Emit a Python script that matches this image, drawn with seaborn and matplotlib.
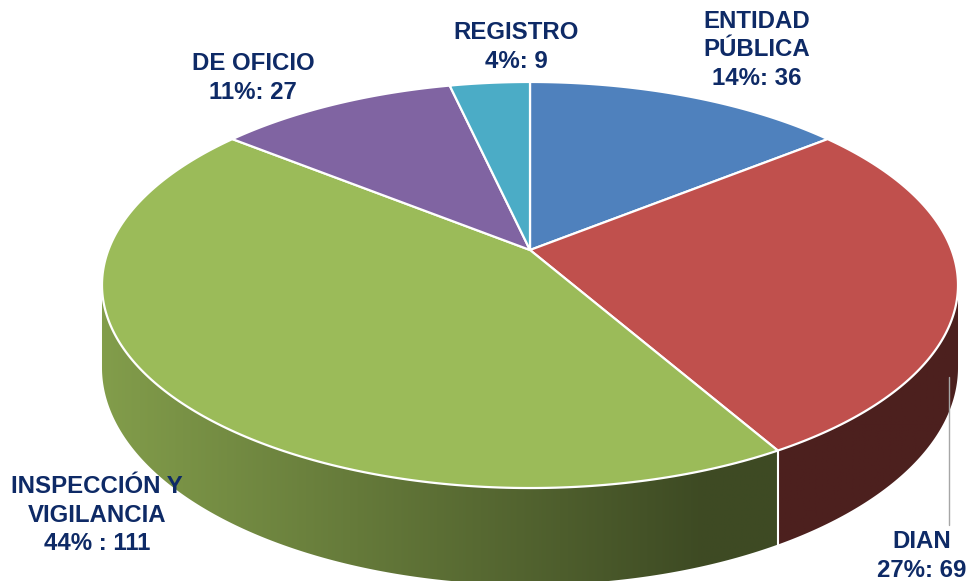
import numpy as np
import matplotlib
matplotlib.use("Agg")
import matplotlib.pyplot as plt
import seaborn as sns
from matplotlib.colors import to_rgb
from matplotlib.patches import Polygon

# data
labels = ["ENTIDAD\nPÚBLICA", "DIAN", "INSPECCIÓN Y\nVIGILANCIA", "DE OFICIO", "REGISTRO"]
values = [36, 69, 111, 27, 9]
separators = [": ", ": ", " : ", ": ", ": "]

sns.set_theme(style="white")
plt.rcParams["font.family"] = ["Liberation Sans", "DejaVu Sans"]
colors = sns.color_palette(["#4F81BD", "#C0504D", "#9BBB59", "#8064A2", "#4BACC6"])

# 3D pie geometry (pixels)
CX, AY = 530, 250        # projected centre of the pie
F, S, K, T = 421.6, 197, 0.1724, 80
VIS0, VIS1 = 99.9, 260.1  # visible part of the side wall (degrees clockwise from top)
label_xy = [(757, 50), (922, 556), (97, 515), (253, 78), (516, 47)]


def proj(phi, z=0.0):
    p = np.radians(phi)
    xw, yw = np.sin(p), np.cos(p)
    d = 1 + K * yw
    return CX + F * xw / d, AY - S * yw / d + T * z / d


def shade(x):
    return np.clip(0.84 - 0.44 * (x - 102) / 598, 0.40, 0.84)


total = sum(values)
bounds = np.concatenate([[0], np.cumsum(values)]) / total * 360

fig = plt.figure(figsize=(9.7, 5.81), dpi=100)
ax = fig.add_axes([0, 0, 1, 1])

# side wall, shaded with a horizontal gradient
for i, (a0, a1) in enumerate(zip(bounds[:-1], bounds[1:])):
    lo, hi = max(a0, VIS0), min(a1, VIS1)
    if lo >= hi:
        continue
    ph = np.linspace(lo, hi, 200)
    xt, yt = proj(ph)
    xb, yb = proj(ph, 1)
    px = np.r_[xt, xb[::-1]]
    py = np.r_[yt, yb[::-1]]
    patch = Polygon(np.c_[px, py], closed=True, fc="none", ec="none")
    ax.add_patch(patch)
    xg = np.linspace(px.min() - 2, px.max() + 2, 400)
    img = np.array(to_rgb(colors[i]))[None, None, :] * shade(xg)[None, :, None]
    im = ax.imshow(img, extent=(xg[0], xg[-1], py.max() + 2, py.min() - 2),
                   aspect="auto", interpolation="bilinear", zorder=0)
    im.set_clip_path(patch)

# white seams on the side where slices meet
for b in bounds[1:-1]:
    if VIS0 < b < VIS1:
        xt, yt = proj(b)
        xb, yb = proj(b, 1)
        ax.plot([xt, xb], [yt, yb], color="white", lw=1.5, zorder=2)

# top faces
for i, (a0, a1) in enumerate(zip(bounds[:-1], bounds[1:])):
    ph = np.linspace(a0, a1, 200)
    xs, ys = proj(ph)
    ax.fill(np.r_[CX, xs], np.r_[AY, ys], fc=colors[i], ec="white", lw=1.6,
            joinstyle="round", zorder=1)

# labels
for lab, v, sep, (lx, ly) in zip(labels, values, separators, label_xy):
    txt = f"{lab}\n{round(100 * v / total)}%{sep}{v}"
    ax.text(lx, ly, txt, ha="center", va="center", multialignment="center",
            fontsize=17.3, fontweight="bold", color="#0E2A66", linespacing=1.3)

# leader line for DIAN
ax.plot([949, 949], [377, 525], color="#A6A6A6", lw=1)

ax.set_xlim(0, 970)
ax.set_ylim(581, 0)
ax.axis("off")
fig.savefig("out.png", dpi=100)
